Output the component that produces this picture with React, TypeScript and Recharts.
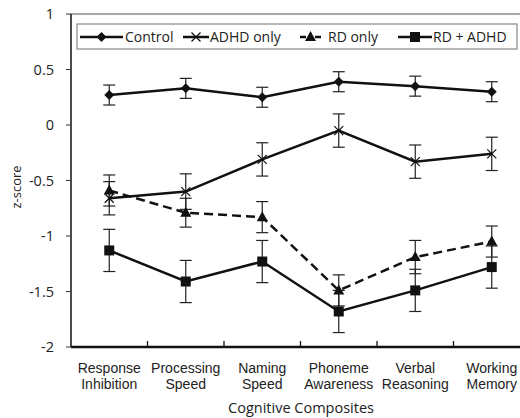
import React from 'react';
import { ComposedChart, Line, XAxis, YAxis, ErrorBar, ReferenceLine, Customized } from 'recharts';

const categories = ['Response\nInhibition', 'Processing\nSpeed', 'Naming\nSpeed', 'Phoneme\nAwareness', 'Verbal\nReasoning', 'Working\nMemory'];
const control = [0.27, 0.33, 0.25, 0.39, 0.35, 0.30];
const controlErr = [0.09, 0.09, 0.09, 0.09, 0.09, 0.09];
const adhdOnly = [-0.66, -0.60, -0.31, -0.05, -0.33, -0.26];
const adhdOnlyErr = [0.15, 0.16, 0.15, 0.15, 0.15, 0.15];
const rdOnly = [-0.59, -0.79, -0.83, -1.49, -1.19, -1.05];
const rdOnlyErr = [0.14, 0.13, 0.14, 0.14, 0.15, 0.14];
const rdAdhd = [-1.13, -1.41, -1.23, -1.68, -1.49, -1.28];
const rdAdhdErr = [0.19, 0.19, 0.19, 0.19, 0.19, 0.19];
const yTicks = [-2, -1.5, -1, -0.5, 0, 0.5, 1];
const seriesNames = ['Control', 'ADHD only', 'RD only', 'RD + ADHD'];

// category centres at i + 0.5, category boundaries at integers
const xTicks = categories.flatMap((_, i) => (i < categories.length - 1 ? [i + 0.5, i + 1] : [i + 0.5]));

const data = categories.map((c, i) => ({
  cat: c,
  pos: i + 0.5,
  control: control[i], controlErr: controlErr[i],
  adhd: adhdOnly[i], adhdErr: adhdOnlyErr[i],
  rd: rdOnly[i], rdErr: rdOnlyErr[i],
  rdadhd: rdAdhd[i], rdadhdErr: rdAdhdErr[i],
}));

const FONT = '"Open Sans", sans-serif';

const Diamond = (props: any) => {
  const { cx, cy } = props;
  if (cx == null || cy == null) return null;
  const r = 5;
  return <polygon points={`${cx},${cy - r} ${cx + r},${cy} ${cx},${cy + r} ${cx - r},${cy}`} fill="#111" />;
};
const Cross = (props: any) => {
  const { cx, cy } = props;
  if (cx == null || cy == null) return null;
  const r = 4.5;
  return (
    <g stroke="#111" strokeWidth={1.2}>
      <line x1={cx - r} y1={cy - r} x2={cx + r} y2={cy + r} />
      <line x1={cx - r} y1={cy + r} x2={cx + r} y2={cy - r} />
    </g>
  );
};
const Triangle = (props: any) => {
  const { cx, cy } = props;
  if (cx == null || cy == null) return null;
  return <polygon points={`${cx},${cy - 6} ${cx + 5.5},${cy + 4} ${cx - 5.5},${cy + 4}`} fill="#111" />;
};
const Square = (props: any) => {
  const { cx, cy } = props;
  if (cx == null || cy == null) return null;
  return <rect x={cx - 5} y={cy - 5} width={10} height={10} fill="#111" />;
};

const XTick = (props: any) => {
  const { x, y, payload } = props;
  const v = Number(payload.value);
  if (Number.isInteger(v)) {
    return <line x1={x} x2={x} y1={y} y2={y - 6} stroke="#111" strokeWidth={1.3} />;
  }
  const lines = String(categories[Math.floor(v)]).split('\n');
  return (
    <text x={x} y={y + 26} textAnchor="middle" fontFamily='"Liberation Sans", Arial, sans-serif' fontSize={14} fill="#222">
      {lines.map((l, i) => (
        <tspan key={i} x={x} dy={i === 0 ? 0 : 16}>{l}</tspan>
      ))}
    </text>
  );
};

const Extras = () => {
  const items = [
    { name: seriesNames[0], x1: 80, x2: 123, tx: 125, m: 'diamond', dash: false },
    { name: seriesNames[1], x1: 183, x2: 209, tx: 210, m: 'cross', dash: false },
    { name: seriesNames[2], x1: 300, x2: 321, tx: 328, m: 'tri', dash: true },
    { name: seriesNames[3], x1: 398, x2: 432, tx: 433, m: 'square', dash: false },
  ];
  const ly = 37;
  return (
    <g>
      <text x={21} y={187} transform="rotate(-90 21 187)" textAnchor="middle" fontFamily={FONT} fontSize={13} fill="#222">z-score</text>
      <text x={301} y={413} textAnchor="middle" fontFamily={FONT} fontSize={14.5} fill="#222">Cognitive Composites</text>
      <rect x={77} y={24} width={440} height={25} fill="#fff" stroke="#888" strokeWidth={1.2} />
      {items.map((it, i) => {
        const cx = (it.x1 + it.x2) / 2;
        return (
          <g key={i}>
            {it.dash ? (
              <g stroke="#111" strokeWidth={2.5}>
                <line x1={it.x1} y1={ly} x2={it.x1 + 6} y2={ly} />
                <line x1={it.x2 - 6} y1={ly} x2={it.x2} y2={ly} />
              </g>
            ) : (
              <line x1={it.x1} y1={ly} x2={it.x2} y2={ly} stroke="#111" strokeWidth={2.5} />
            )}
            {it.m === 'diamond' && <Diamond cx={cx} cy={ly} />}
            {it.m === 'cross' && <Cross cx={cx} cy={ly} />}
            {it.m === 'tri' && <Triangle cx={cx} cy={ly} />}
            {it.m === 'square' && <Square cx={cx} cy={ly} />}
            <text x={it.tx} y={42} fontFamily={FONT} fontSize={14} fill="#222">{it.name}</text>
          </g>
        );
      })}
    </g>
  );
};

export default function App() {
  return (
    <div style={{ position: 'absolute', left: 0, top: 0, width: 520, height: 418, overflow: 'hidden', background: '#fff' }}>
      <ComposedChart width={540} height={418} data={data} margin={{ top: 14, right: 10, left: 0, bottom: 0 }}>
        <ReferenceLine y={1} stroke="#8a8a8a" strokeWidth={1.5} />
        <XAxis dataKey="pos" type="number" domain={[0, 6]} ticks={xTicks} interval={0} height={71} tickLine={false} tickSize={0} tickMargin={0} tick={<XTick />} axisLine={{ stroke: '#111', strokeWidth: 2.5 }} />
        <YAxis type="number" domain={[-2, 1]} ticks={yTicks} width={71} tickSize={5} tickMargin={12} interval={0}
          axisLine={{ stroke: '#111', strokeWidth: 1.5 }} tickLine={{ stroke: '#333', strokeWidth: 1 }}
          tick={{ fontFamily: FONT, fontSize: 14.5, fill: '#222' }} />
        <Line dataKey="control" stroke="#111" strokeWidth={2.5} dot={<Diamond />} activeDot={false} isAnimationActive={false}>
          <ErrorBar dataKey="controlErr" width={6} stroke="#222" strokeWidth={1.2} />
        </Line>
        <Line dataKey="adhd" stroke="#111" strokeWidth={2.5} dot={<Cross />} activeDot={false} isAnimationActive={false}>
          <ErrorBar dataKey="adhdErr" width={6} stroke="#222" strokeWidth={1.2} />
        </Line>
        <Line dataKey="rd" stroke="#111" strokeWidth={2.5} strokeDasharray="9 5" dot={<Triangle />} activeDot={false} isAnimationActive={false}>
          <ErrorBar dataKey="rdErr" width={6} stroke="#222" strokeWidth={1.2} />
        </Line>
        <Line dataKey="rdadhd" stroke="#111" strokeWidth={2.5} dot={<Square />} activeDot={false} isAnimationActive={false}>
          <ErrorBar dataKey="rdadhdErr" width={6} stroke="#222" strokeWidth={1.2} />
        </Line>
        <Customized component={Extras} />
      </ComposedChart>
    </div>
  );
}
